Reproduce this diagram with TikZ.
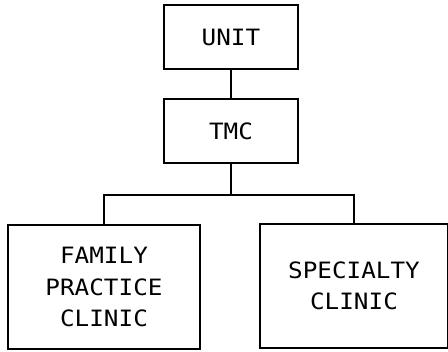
\documentclass[tikz,border=0pt]{standalone}
\usepackage{fontspec}
\newfontfamily\chartfont[FakeStretch=1.08]{DejaVu Sans Mono}
\begin{document}
\begin{tikzpicture}[x=1pt,y=-1pt,
  unitbox/.style={draw, line width=1.4pt, inner sep=0pt, align=center,
    font=\chartfont\fontsize{22.5}{31.5}\selectfont},
  link/.style={line width=1.5pt}]
  \useasboundingbox (0,0) rectangle (448,352);
  % top of the chain
  \node[unitbox, minimum width=134pt, minimum height=64pt] (unit) at (231,37) {UNIT};
  \node[unitbox, minimum width=134pt, minimum height=64pt] (tmc) at (231,131) {TMC};
  % clinics
  \node[unitbox, minimum width=192pt, minimum height=124pt] (fpc) at (104,287) {FAMILY\\PRACTICE\\CLINIC};
  \node[unitbox, minimum width=188pt, minimum height=124pt] (spc) at (354,286) {SPECIALTY\\CLINIC};
  \coordinate (bus) at (231,195);
  % connectors
  \draw[link] (unit.south) -- (tmc.north);
  \draw[link] (tmc.south) -- (bus);
  \draw[link] (fpc.north) |- (bus) -| (spc.north);
\end{tikzpicture}
\end{document}
